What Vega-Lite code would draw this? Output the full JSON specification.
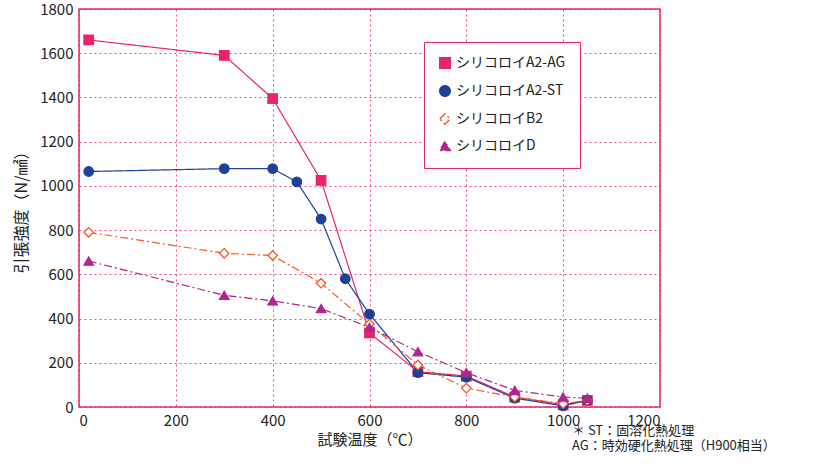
{
  "$schema": "https://vega.github.io/schema/vega-lite/v6.json",
  "width": 581,
  "height": 398,
  "padding": {"left": 13, "top": 2, "right": 5, "bottom": 5},
  "config": {
    "font": "Noto Sans CJK JP",
    "view": {"stroke": "#e8246b", "strokeWidth": 1.5},
    "axis": {"labelFontSize": 15, "labelColor": "#222", "titleFontSize": 15, "titleFontWeight": "normal", "titleColor": "#222", "gridColor": "#e8246b", "gridDash": [2, 3], "gridOpacity": 0.8, "domain": false, "ticks": false, "labelPadding": 6, "format": "d"}
  },
  "title": {"text": ["＊ ST：固溶化熱処理", "AG：時効硬化熱処理（H900相当）"], "orient": "bottom", "anchor": "end", "fontSize": 13, "fontWeight": "normal", "color": "#222", "offset": -22, "align": "left", "dx": -88},
  "data": {"values": [
    {"s": "シリコロイA2-AG", "t": 20, "v": 1660}, {"s": "シリコロイA2-AG", "t": 300, "v": 1590}, {"s": "シリコロイA2-AG", "t": 400, "v": 1395}, {"s": "シリコロイA2-AG", "t": 500, "v": 1025}, {"s": "シリコロイA2-AG", "t": 600, "v": 335}, {"s": "シリコロイA2-AG", "t": 700, "v": 160}, {"s": "シリコロイA2-AG", "t": 800, "v": 140}, {"s": "シリコロイA2-AG", "t": 900, "v": 45}, {"s": "シリコロイA2-AG", "t": 1000, "v": 10}, {"s": "シリコロイA2-AG", "t": 1050, "v": 30},
    {"s": "シリコロイA2-ST", "t": 20, "v": 1065}, {"s": "シリコロイA2-ST", "t": 300, "v": 1078}, {"s": "シリコロイA2-ST", "t": 400, "v": 1078}, {"s": "シリコロイA2-ST", "t": 450, "v": 1018}, {"s": "シリコロイA2-ST", "t": 500, "v": 850}, {"s": "シリコロイA2-ST", "t": 550, "v": 580}, {"s": "シリコロイA2-ST", "t": 600, "v": 420}, {"s": "シリコロイA2-ST", "t": 700, "v": 155}, {"s": "シリコロイA2-ST", "t": 800, "v": 135}, {"s": "シリコロイA2-ST", "t": 900, "v": 40}, {"s": "シリコロイA2-ST", "t": 1000, "v": 5}, {"s": "シリコロイA2-ST", "t": 1050, "v": 30},
    {"s": "シリコロイB2", "t": 20, "v": 790}, {"s": "シリコロイB2", "t": 300, "v": 695}, {"s": "シリコロイB2", "t": 400, "v": 685}, {"s": "シリコロイB2", "t": 500, "v": 560}, {"s": "シリコロイB2", "t": 600, "v": 375}, {"s": "シリコロイB2", "t": 700, "v": 190}, {"s": "シリコロイB2", "t": 800, "v": 85}, {"s": "シリコロイB2", "t": 900, "v": 45}, {"s": "シリコロイB2", "t": 1000, "v": 15}, {"s": "シリコロイB2", "t": 1050, "v": 30},
    {"s": "シリコロイD", "t": 20, "v": 660}, {"s": "シリコロイD", "t": 300, "v": 505}, {"s": "シリコロイD", "t": 400, "v": 480}, {"s": "シリコロイD", "t": 500, "v": 445}, {"s": "シリコロイD", "t": 600, "v": 360}, {"s": "シリコロイD", "t": 700, "v": 250}, {"s": "シリコロイD", "t": 800, "v": 155}, {"s": "シリコロイD", "t": 900, "v": 75}, {"s": "シリコロイD", "t": 1000, "v": 45}, {"s": "シリコロイD", "t": 1050, "v": 40}
  ]},
  "encoding": {
    "x": {"field": "t", "type": "quantitative", "title": "試験温度（℃）", "scale": {"domain": [0, 1200]}, "axis": {"values": [0, 200, 400, 600, 800, 1000, 1200], "grid": true, "gridDash": [2, 3]}},
    "y": {"field": "v", "type": "quantitative", "title": "引張強度（N/㎟）", "scale": {"domain": [0, 1800]}, "axis": {"values": [0, 200, 400, 600, 800, 1000, 1200, 1400, 1600, 1800], "titlePadding": 10, "titleFontSize": 16}},
    "color": {"field": "s", "type": "nominal", "scale": {"domain": ["シリコロイA2-AG", "シリコロイA2-ST", "シリコロイB2", "シリコロイD"], "range": ["#e8246b", "#1f3f99", "#f05a28", "#b0258e"]},
      "legend": {"title": null, "orient": "none", "legendX": 345, "legendY": 33, "labelFontSize": 14, "labelColor": "#222", "symbolSize": 110, "rowPadding": 10, "padding": 14, "strokeColor": "#e8246b", "fillColor": "white"}}
  },
  "layer": [
    {"mark": {"type": "line", "strokeWidth": 1.2},
     "encoding": {"strokeDash": {"field": "s", "type": "nominal", "legend": null, "scale": {"domain": ["シリコロイA2-AG", "シリコロイA2-ST", "シリコロイB2", "シリコロイD"], "range": [[1, 0], [1, 0], [8, 3, 2, 3], [8, 3, 2, 3]]}}}},
    {"mark": {"type": "point", "size": 90, "opacity": 1, "strokeWidth": 1.3},
     "encoding": {
       "shape": {"field": "s", "type": "nominal", "scale": {"domain": ["シリコロイA2-AG", "シリコロイA2-ST", "シリコロイB2", "シリコロイD"], "range": ["square", "circle", "diamond", "triangle-up"]}},
       "fill": {"field": "s", "type": "nominal", "scale": {"domain": ["シリコロイA2-AG", "シリコロイA2-ST", "シリコロイB2", "シリコロイD"], "range": ["#e8246b", "#1f3f99", "white", "#b0258e"]}}
     }}
  ]
}
